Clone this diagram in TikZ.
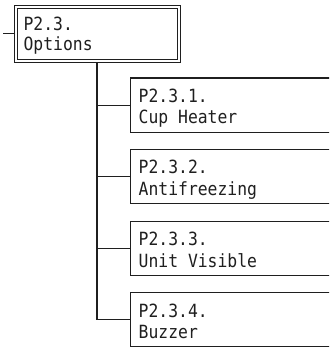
\documentclass[tikz,border=0pt]{standalone}
\usepackage{fontspec}
\setmonofont[FakeStretch=0.9]{DejaVu Sans Mono}
\begin{document}
\begin{tikzpicture}[x=1pt,y=-1pt,
  every node/.style={inner sep=0pt, outer sep=0pt},
  txt/.style={anchor=base west, font=\ttfamily\fontsize{18.2}{20}\selectfont, text=black!88},
  topbox/.style={draw=black!88, line width=1pt, double, double distance=2.1pt, outer sep=2.05pt,
    minimum width=163pt, minimum height=53.3pt},
  childbox/.style={draw=black!88, line width=1.1pt, minimum width=230pt, minimum height=54.3pt, anchor=north west},
  trunk/.style={line width=2pt, draw=black!88},
  branch/.style={line width=1.2pt, draw=black!88}]
\useasboundingbox (0,0) rectangle (329,347);
\clip (0,0) rectangle (329,347);
% top box
\node[topbox] (top) at (97.3,34.0) {};
\node[txt] (topa) at (23.6,30.5) {P2.3.};
\node[txt] (topb) at (23.6,50.5) {Options};
\coordinate (stub) at (3,34.0);
\draw[branch, line width=1pt] (stub) -- (top.west);
% child boxes
\node[childbox] (b1) at (130.7,78) {};
\node[childbox] (b2) at (130.7,149.5) {};
\node[childbox] (b3) at (130.7,221.3) {};
\node[childbox] (b4) at (130.7,292.7) {};
\node[txt] (b1a) at (138.7,102.5) {P2.3.1.};
\node[txt] (b1b) at (138.7,123.5) {Cup Heater};
\node[txt] (b2a) at (138.7,174) {P2.3.2.};
\node[txt] (b2b) at (138.7,195) {Antifreezing};
\node[txt] (b3a) at (138.7,245.8) {P2.3.3.};
\node[txt] (b3b) at (138.7,267) {Unit Visible};
\node[txt] (b4a) at (138.7,317.2) {P2.3.4.};
\node[txt] (b4b) at (138.7,338.5) {Buzzer};
% connectors
\draw[trunk] (top.south) -- (top.south |- b4.west);
\draw[branch] (top.south |- b1.west) -- (b1.west);
\draw[branch] (top.south |- b2.west) -- (b2.west);
\draw[branch] (top.south |- b3.west) -- (b3.west);
\draw[branch] (top.south |- b4.west) -- (b4.west);
\end{tikzpicture}
\end{document}
